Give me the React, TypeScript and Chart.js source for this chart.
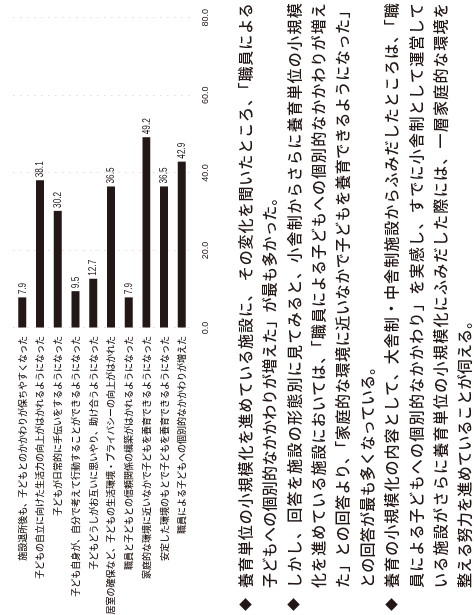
import React, { useEffect, useRef } from "react";
import { Chart, registerables } from "chart.js";

Chart.register(...registerables);

const INK = "#231815";

const categories = [
  "施設退所後も、子どもとのかかわりが保ちやすくなった",
  "子どもの自立に向けた生活力の向上がはかれるようになった",
  "子どもが日常的に手伝いをするようになった",
  "子ども自身が、自分で考えて行動することができるようになった",
  "子どもどうしがお互いに思いやり、助け合うようになった",
  "居室の確保など、子どもの生活環境・プライバシーの向上がはかれた",
  "職員と子どもとの信頼関係の構築がはかれるようになった",
  "家庭的な環境に近いなかで子どもを養育できるようになった",
  "安定した環境のもとで子どもを養育できるようになった",
  "職員による子どもへの個別的なかかわりが増えた",
];

const values = [7.9, 38.1, 30.2, 9.5, 12.7, 36.5, 7.9, 49.2, 36.5, 42.9];

const axisMin = 0;
const axisMax = 80;
const axisStep = 20;

const paragraph1 = [
  "養育単位の小規模化を進めている施設に、 その変化を聞いたところ、「職員による",
  "子どもへの個別的なかかわりが増えた」が最も多かった。",
];
const paragraph2 = [
  "しかし、回答を施設の形態別に見てみると、小舎制からさらに養育単位の小規模",
  "化を進めている施設においては、「職員による子どもへの個別的なかかわりが増え",
  "た」との回答より、「家庭的な環境に近いなかで子どもを養育できるようになった」",
  "との回答が最も多くなっている。",
];
const paragraph3 = [
  "養育の小規模化の内容として、大舎制・中舎制施設からふみだしたところは、「職",
  "員による子どもへの個別的なかかわり」を実感し、すでに小舎制として運営して",
  "いる施設がさらに養育単位の小規模化にふみだした際には、一層家庭的な環境を",
  "整える努力を進めていることが伺える。",
];

const paragraphs = [paragraph1, paragraph2, paragraph3];

export default function App() {
  const ref = useRef<HTMLCanvasElement>(null);

  useEffect(() => {
    if (!ref.current) return;
    const valueLabels = {
      id: "valueLabels",
      afterDatasetsDraw(chart: any) {
        const ctx = chart.ctx as CanvasRenderingContext2D;
        const meta = chart.getDatasetMeta(0);
        ctx.save();
        ctx.fillStyle = INK;
        ctx.font = "10px 'Liberation Sans', Arial, sans-serif";
        ctx.textBaseline = "middle";
        ctx.textAlign = "left";
        meta.data.forEach((bar: any, i: number) => {
          ctx.save();
          ctx.translate(bar.x + 3, bar.y + 0.5);
          ctx.scale(0.82, 1);
          ctx.fillText(values[i].toFixed(1), 0, 0);
          ctx.restore();
        });
        ctx.restore();
      },
    };

    const chart = new Chart(ref.current, {
      type: "bar",
      data: {
        labels: categories,
        datasets: [
          {
            data: values,
            backgroundColor: INK,
            borderWidth: 0,
            barPercentage: 0.45,
            categoryPercentage: 1,
          },
        ],
      },
      options: {
        indexAxis: "y",
        animation: false,
        responsive: false,
        devicePixelRatio: 1,
        layout: { padding: { top: 6.5, right: 14.4, bottom: 0, left: 0 } },
        plugins: {
          legend: { display: false },
          tooltip: { enabled: false },
        },
        scales: {
          x: {
            min: axisMin,
            max: axisMax,
            ticks: {
              stepSize: axisStep,
              callback: (v: any) => Number(v).toFixed(1),
              font: { family: "'Liberation Sans Narrow', 'Liberation Sans', sans-serif", size: 9 },
              color: INK,
              padding: 9,
              maxRotation: 0,
              autoSkip: false,
            },
            grid: { drawTicks: false, color: "rgba(0,0,0,0.2)", lineWidth: 1 },
            border: { display: false, dash: [1, 6] },
            afterFit: (s: any) => {
              s.height = 24.3;
            },
          },
          y: {
            ticks: {
              font: { family: "'Noto Sans CJK JP', sans-serif", size: 9, weight: "500" },
              color: INK,
              padding: 8,
              autoSkip: false,
            },
            grid: { display: false, drawTicks: false },
            border: { display: false },
            afterFit: (s: any) => {
              s.width = 287;
            },
          },
        },
      },
      plugins: [valueLabels],
    } as any);
    return () => chart.destroy();
  }, []);

  const lines: { text: string; justify: boolean; bullet: boolean }[] = [];
  paragraphs.forEach((p) => {
    p.forEach((t, i) => {
      lines.push({ text: t, justify: i < p.length - 1, bullet: i === 0 });
    });
  });

  const LINE_H = 24.4;
  const FIRST_CENTER = 245;

  return (
    <div
      style={{
        position: "fixed",
        left: 0,
        top: 0,
        width: 615,
        height: 474,
        transformOrigin: "0 0",
        transform: "translateY(615px) rotate(-90deg)",
        background: "#fff",
        overflow: "hidden",
        fontFamily: "'Noto Sans CJK JP', sans-serif",
        color: INK,
      }}
    >
      <canvas
        ref={ref}
        width={615}
        height={215}
        style={{ position: "absolute", left: 0, top: 0, width: 615, height: 215 }}
      />
      {lines.map((l, i) => {
        const center = FIRST_CENTER + i * LINE_H;
        return (
          <React.Fragment key={i}>
            {l.bullet && (
              <div
                style={{
                  position: "absolute",
                  left: 10 - 4.5,
                  top: center - 4.5,
                  width: 9,
                  height: 9,
                  background: INK,
                  transform: "rotate(45deg)",
                }}
              />
            )}
            <div
              style={{
                position: "absolute",
                left: 27,
                top: center - LINE_H / 2,
                width: 585,
                height: LINE_H,
                lineHeight: LINE_H + "px",
                fontSize: 15,
                fontWeight: 500,
                letterSpacing: 0.3,
                textAlign: l.justify ? "justify" : "left",
                textAlignLast: l.justify ? "justify" : "left",
                overflow: "visible",
              } as any}
            >
              {l.text}
            </div>
          </React.Fragment>
        );
      })}
    </div>
  );
}
